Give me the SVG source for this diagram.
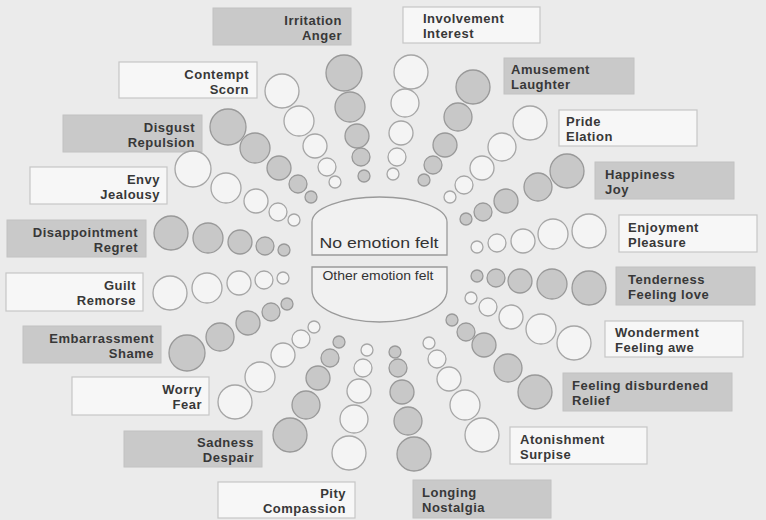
<svg xmlns="http://www.w3.org/2000/svg" width="766" height="520" viewBox="0 0 766 520">
<style>
.bg{fill:#ebebeb}
.bw{fill:#f7f7f7;stroke:#c6c6c6;stroke-width:1.2}
.bg2{fill:#c9c9c9;stroke:#c2c2c2;stroke-width:1}
.cg{fill:#c8c8c8;stroke:#999;stroke-width:1.3}
.cw{fill:#f4f4f4;stroke:#a6a6a6;stroke-width:1.3}
.t{font-family:"Liberation Sans",Arial,sans-serif;font-weight:bold;font-size:13px;letter-spacing:0.5px;fill:#383838}
.l text{text-anchor:end}
.c{font-family:"Liberation Sans",Arial,sans-serif;fill:#333;text-anchor:middle}
.ctr{fill:#f1f1f1;stroke:#9a9a9a;stroke-width:1.3}
</style>
<rect class="bg" x="0" y="0" width="766" height="520"/>

<g id="center">
<path class="ctr" d="M312,255 V222 A67.5,25 0 0 1 447,222 V255 Z"/>
<text class="c" x="379" y="248" font-size="15" textLength="119" lengthAdjust="spacingAndGlyphs">No emotion felt</text>
<path class="ctr" d="M312,267 H447 V290 A67.5,32 0 0 1 312,290 Z"/>
<text class="c" x="378" y="280" font-size="13.5" textLength="111" lengthAdjust="spacingAndGlyphs">Other emotion felt</text>
</g>

<g class="l">
<g id="irritation">
<rect class="bg2" x="213" y="8" width="138" height="37"/>
<text class="t" x="342" y="25">Irritation</text><text class="t" x="342" y="40">Anger</text>
<circle class="cg" cx="344" cy="73" r="18"/><circle class="cg" cx="350" cy="107" r="15"/><circle class="cg" cx="357" cy="136" r="12"/><circle class="cg" cx="361" cy="157" r="9"/><circle class="cg" cx="364" cy="176" r="6"/>
</g>
<g id="contempt">
<rect class="bw" x="119" y="62" width="138" height="36"/>
<text class="t" x="249" y="79">Contempt</text><text class="t" x="249" y="94">Scorn</text>
<circle class="cw" cx="282" cy="91" r="17"/><circle class="cw" cx="299" cy="121" r="15"/><circle class="cw" cx="315" cy="146" r="12"/><circle class="cw" cx="327" cy="167" r="9"/><circle class="cw" cx="335" cy="182" r="6"/>
</g>
<g id="disgust">
<rect class="bg2" x="63" y="115" width="139" height="37"/>
<text class="t" x="195" y="132">Disgust</text><text class="t" x="195" y="147">Repulsion</text>
<circle class="cg" cx="228" cy="127" r="18"/><circle class="cg" cx="255" cy="148" r="15"/><circle class="cg" cx="279" cy="168" r="12"/><circle class="cg" cx="298" cy="184" r="9"/><circle class="cg" cx="311" cy="197" r="6"/>
</g>
<g id="envy">
<rect class="bw" x="30" y="167" width="137" height="37"/>
<text class="t" x="160" y="184">Envy</text><text class="t" x="160" y="199">Jealousy</text>
<circle class="cw" cx="193" cy="169" r="18"/><circle class="cw" cx="226" cy="188" r="15"/><circle class="cw" cx="256" cy="201" r="12"/><circle class="cw" cx="278" cy="212" r="9"/><circle class="cw" cx="294" cy="220" r="6"/>
</g>
<g id="disappointment">
<rect class="bg2" x="7" y="220" width="139" height="37"/>
<text class="t" x="138" y="237">Disappointment</text><text class="t" x="138" y="252">Regret</text>
<circle class="cg" cx="171" cy="233" r="17"/><circle class="cg" cx="208" cy="238" r="15"/><circle class="cg" cx="240" cy="242" r="12"/><circle class="cg" cx="265" cy="246" r="9"/><circle class="cg" cx="284" cy="250" r="6"/>
</g>
<g id="guilt">
<rect class="bw" x="6" y="273" width="137" height="38"/>
<text class="t" x="136" y="290">Guilt</text><text class="t" x="136" y="305">Remorse</text>
<circle class="cw" cx="170" cy="293" r="17"/><circle class="cw" cx="207" cy="288" r="15"/><circle class="cw" cx="239" cy="283" r="12"/><circle class="cw" cx="264" cy="280" r="9"/><circle class="cw" cx="283" cy="278" r="6"/>
</g>
<g id="embarrassment">
<rect class="bg2" x="23" y="326" width="138" height="37"/>
<text class="t" x="154" y="343">Embarrassment</text><text class="t" x="154" y="358">Shame</text>
<circle class="cg" cx="187" cy="353" r="18"/><circle class="cg" cx="220" cy="337" r="14"/><circle class="cg" cx="248" cy="323" r="12"/><circle class="cg" cx="271" cy="312" r="9"/><circle class="cg" cx="287" cy="304" r="6"/>
</g>
<g id="worry">
<rect class="bw" x="72" y="377" width="137" height="38"/>
<text class="t" x="202" y="394">Worry</text><text class="t" x="202" y="409">Fear</text>
<circle class="cw" cx="235" cy="402" r="17"/><circle class="cw" cx="260" cy="377" r="15"/><circle class="cw" cx="283" cy="355" r="12"/><circle class="cw" cx="301" cy="339" r="9"/><circle class="cw" cx="314" cy="327" r="6"/>
</g>
<g id="sadness">
<rect class="bg2" x="124" y="431" width="138" height="36"/>
<text class="t" x="254" y="447">Sadness</text><text class="t" x="254" y="462">Despair</text>
<circle class="cg" cx="290" cy="435" r="17"/><circle class="cg" cx="306" cy="405" r="14"/><circle class="cg" cx="318" cy="378" r="12"/><circle class="cg" cx="330" cy="358" r="9"/><circle class="cg" cx="339" cy="342" r="6"/>
</g>
<g id="pity">
<rect class="bw" x="218" y="482" width="137" height="36"/>
<text class="t" x="346" y="498">Pity</text><text class="t" x="346" y="513">Compassion</text>
<circle class="cw" cx="349" cy="453" r="17"/><circle class="cw" cx="354" cy="419" r="14"/><circle class="cw" cx="359" cy="391" r="12"/><circle class="cw" cx="363" cy="368" r="9"/><circle class="cw" cx="367" cy="350" r="6"/>
</g>
</g>

<g class="r">
<g id="involvement">
<rect class="bw" x="403" y="7" width="137" height="36"/>
<text class="t" x="423" y="23">Involvement</text><text class="t" x="423" y="38">Interest</text>
<circle class="cw" cx="411" cy="72" r="17"/><circle class="cw" cx="405" cy="103" r="14"/><circle class="cw" cx="401" cy="133" r="12"/><circle class="cw" cx="397" cy="157" r="9"/><circle class="cw" cx="393" cy="174" r="6"/>
</g>
<g id="amusement">
<rect class="bg2" x="504" y="58" width="130" height="36"/>
<text class="t" x="511" y="74">Amusement</text><text class="t" x="511" y="89">Laughter</text>
<circle class="cg" cx="473" cy="87" r="17"/><circle class="cg" cx="458" cy="117" r="14"/><circle class="cg" cx="445" cy="145" r="12"/><circle class="cg" cx="433" cy="165" r="9"/><circle class="cg" cx="424" cy="180" r="6"/>
</g>
<g id="pride">
<rect class="bw" x="559" y="110" width="138" height="36"/>
<text class="t" x="566" y="126">Pride</text><text class="t" x="566" y="141">Elation</text>
<circle class="cw" cx="530" cy="123" r="17"/><circle class="cw" cx="502" cy="147" r="14"/><circle class="cw" cx="482" cy="168" r="12"/><circle class="cw" cx="464" cy="185" r="9"/><circle class="cw" cx="450" cy="197" r="6"/>
</g>
<g id="happiness">
<rect class="bg2" x="595" y="162" width="139" height="37"/>
<text class="t" x="605" y="179">Happiness</text><text class="t" x="605" y="194">Joy</text>
<circle class="cg" cx="567" cy="171" r="17"/><circle class="cg" cx="538" cy="187" r="14"/><circle class="cg" cx="506" cy="201" r="12"/><circle class="cg" cx="483" cy="212" r="9"/><circle class="cg" cx="466" cy="219" r="6"/>
</g>
<g id="enjoyment">
<rect class="bw" x="619" y="215" width="138" height="37"/>
<text class="t" x="628" y="232">Enjoyment</text><text class="t" x="628" y="247">Pleasure</text>
<circle class="cw" cx="589" cy="231" r="17"/><circle class="cw" cx="553" cy="234" r="15"/><circle class="cw" cx="523" cy="241" r="12"/><circle class="cw" cx="497" cy="243" r="9"/><circle class="cw" cx="477" cy="247" r="6"/>
</g>
<g id="tenderness">
<rect class="bg2" x="616" y="267" width="139" height="38"/>
<text class="t" x="628" y="284">Tenderness</text><text class="t" x="628" y="299">Feeling love</text>
<circle class="cg" cx="589" cy="288" r="17"/><circle class="cg" cx="552" cy="284" r="15"/><circle class="cg" cx="520" cy="281" r="12"/><circle class="cg" cx="496" cy="278" r="9"/><circle class="cg" cx="477" cy="276" r="6"/>
</g>
<g id="wonderment">
<rect class="bw" x="605" y="321" width="138" height="36"/>
<text class="t" x="615" y="337">Wonderment</text><text class="t" x="615" y="352">Feeling awe</text>
<circle class="cw" cx="574" cy="343" r="17"/><circle class="cw" cx="541" cy="329" r="15"/><circle class="cw" cx="511" cy="317" r="12"/><circle class="cw" cx="488" cy="307" r="9"/><circle class="cw" cx="471" cy="298" r="6"/>
</g>
<g id="disburdened">
<rect class="bg2" x="563" y="373" width="169" height="38"/>
<text class="t" x="572" y="390">Feeling disburdened</text><text class="t" x="572" y="405">Relief</text>
<circle class="cg" cx="535" cy="392" r="17"/><circle class="cg" cx="508" cy="368" r="14"/><circle class="cg" cx="484" cy="345" r="12"/><circle class="cg" cx="466" cy="332" r="9"/><circle class="cg" cx="452" cy="320" r="6"/>
</g>
<g id="astonishment">
<rect class="bw" x="510" y="427" width="137" height="37"/>
<text class="t" x="520" y="444">Atonishment</text><text class="t" x="520" y="459">Surpise</text>
<circle class="cw" cx="482" cy="435" r="17"/><circle class="cw" cx="465" cy="405" r="15"/><circle class="cw" cx="449" cy="379" r="12"/><circle class="cw" cx="437" cy="359" r="9"/><circle class="cw" cx="429" cy="343" r="6"/>
</g>
<g id="longing">
<rect class="bg2" x="413" y="480" width="138" height="38"/>
<text class="t" x="422" y="497">Longing</text><text class="t" x="422" y="512">Nostalgia</text>
<circle class="cg" cx="414" cy="454" r="17"/><circle class="cg" cx="408" cy="421" r="14"/><circle class="cg" cx="402" cy="392" r="12"/><circle class="cg" cx="398" cy="368" r="9"/><circle class="cg" cx="395" cy="352" r="6"/>
</g>
</g>
</svg>
